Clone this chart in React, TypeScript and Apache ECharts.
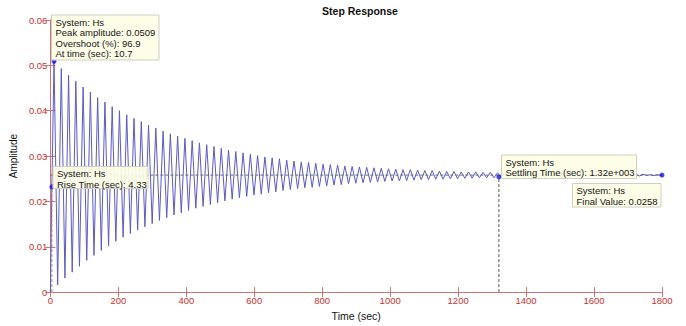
import React, { useEffect, useRef } from "react";
import * as echarts from "echarts";

// Extrema of the step response (time in sec, amplitude)
const timeSec = [
  0, 4.33, 10.7, 21.4, 32.1, 42.8, 53.5, 64.2, 74.9, 85.6, 96.3,
  107, 117.7, 128.4, 139.1, 149.8, 160.5, 171.2, 181.9, 192.6, 203.3,
  214, 224.7, 235.4, 246.1, 256.8, 267.5, 278.2, 288.9, 299.6, 310.3,
  321, 331.7, 342.4, 353.1, 363.8, 374.5, 385.2, 395.9, 406.6, 417.3,
  428, 438.7, 449.4, 460.1, 470.8, 481.5, 492.2, 502.9, 513.6, 524.3,
  535, 545.7, 556.4, 567.1, 577.8, 588.5, 599.2, 609.9, 620.6, 631.3,
  642, 652.7, 663.4, 674.1, 684.8, 695.5, 706.2, 716.9, 727.6, 738.3,
  749, 759.7, 770.4, 781.1, 791.8, 802.5, 813.2, 823.9, 834.6, 845.3,
  856, 866.7, 877.4, 888.1, 898.8, 909.5, 920.2, 930.9, 941.6, 952.3,
  963, 973.7, 984.4, 995.1, 1005.8, 1016.5, 1027.2, 1037.9, 1048.6, 1059.3,
  1070, 1080.7, 1091.4, 1102.1, 1112.8, 1123.5, 1134.2, 1144.9, 1155.6, 1166.3,
  1177, 1187.7, 1198.4, 1209.1, 1219.8, 1230.5, 1241.2, 1251.9, 1262.6, 1273.3,
  1284, 1294.7, 1305.4, 1316.1, 1326.8, 1337.5, 1348.2, 1358.9, 1369.6, 1380.3,
  1391, 1401.7, 1412.4, 1423.1, 1433.8, 1444.5, 1455.2, 1465.9, 1476.6, 1487.3,
  1498, 1508.7, 1519.4, 1530.1, 1540.8, 1551.5, 1562.2, 1572.9, 1583.6, 1594.3,
  1605, 1615.7, 1626.4, 1637.1, 1647.8, 1658.5, 1669.2, 1679.9, 1690.6, 1701.3,
  1712, 1722.7, 1733.4, 1744.1, 1754.8, 1765.5, 1776.2, 1786.9, 1797.6, 1800,
];

const amplitude = [
  0, 0.0232, 0.0509, 0.0016, 0.0493, 0.0031, 0.0478, 0.0044, 0.0465, 0.0057, 0.0452,
  0.0070, 0.0441, 0.0081, 0.0429, 0.0092, 0.0419, 0.0102, 0.0409, 0.0112, 0.0400,
  0.0121, 0.0391, 0.0129, 0.0383, 0.0137, 0.0376, 0.0144, 0.0368, 0.0151, 0.0362,
  0.0158, 0.0355, 0.0164, 0.0349, 0.0170, 0.0344, 0.0175, 0.0339, 0.0180, 0.0334,
  0.0185, 0.0329, 0.0189, 0.0325, 0.0193, 0.0321, 0.0197, 0.0317, 0.0201, 0.0313,
  0.0205, 0.0310, 0.0208, 0.0307, 0.0211, 0.0304, 0.0214, 0.0301, 0.0216, 0.0298,
  0.0219, 0.0296, 0.0221, 0.0294, 0.0224, 0.0291, 0.0226, 0.0289, 0.0228, 0.0287,
  0.0230, 0.0286, 0.0231, 0.0284, 0.0233, 0.0282, 0.0234, 0.0281, 0.0236, 0.0280,
  0.0237, 0.0278, 0.0239, 0.0277, 0.0240, 0.0276, 0.0241, 0.0275, 0.0242, 0.0274,
  0.0243, 0.0273, 0.0244, 0.0272, 0.0245, 0.0271, 0.0245, 0.0270, 0.0246, 0.0270,
  0.0247, 0.0269, 0.0248, 0.0268, 0.0248, 0.0268, 0.0249, 0.0267, 0.0249, 0.0266,
  0.0250, 0.0266, 0.0250, 0.0265, 0.0251, 0.0265, 0.0251, 0.0265, 0.0252, 0.0264,
  0.0252, 0.0264, 0.0252, 0.0263, 0.0253, 0.0263, 0.0253, 0.0263, 0.0253, 0.0262,
  0.0254, 0.0262, 0.0254, 0.0262, 0.0254, 0.0262, 0.0254, 0.0261, 0.0255, 0.0261,
  0.0255, 0.0261, 0.0255, 0.0261, 0.0255, 0.0261, 0.0255, 0.0260, 0.0256, 0.0260,
  0.0256, 0.0260, 0.0256, 0.0260, 0.0256, 0.0260, 0.0256, 0.0260, 0.0256, 0.0260,
  0.0256, 0.0260, 0.0256, 0.0260, 0.0257, 0.0259, 0.0257, 0.0259, 0.0257, 0.0258,
];

// Characteristic points
const peakTime = 10.7;
const peakValue = 0.0509;
const riseTime = 4.33;
const riseValue = 0.0232;
const settlingTime = 1320;
const settlingValue = 0.0254;
const finalTime = 1800;
const finalValue = 0.0258;

// Data-tip texts
const peakTip = ["System: Hs", "Peak amplitude: 0.0509", "Overshoot (%): 96.9", "At time (sec): 10.7"];
const riseTip = ["System: Hs", "Rise Time (sec): 4.33"];
const settlingTip = ["System: Hs", "Settling Time (sec): 1.32e+003"];
const finalTip = ["System: Hs", "Final Value: 0.0258"];

const FONT = '"Liberation Sans", Arial, sans-serif';
const AXIS_COLOR = "#d27474";
const LABEL_COLOR = "#cc2f2f";

function tipBox(x: number, y: number, w: number, h: number, lines: string[]) {
  return {
    type: "group",
    z: 100,
    children: [
      {
        type: "rect",
        shape: { x, y, width: w, height: h },
        style: { fill: "rgba(253,253,230,0.93)", stroke: "#cfcfbd", lineWidth: 1 },
        z: 100,
      },
      {
        type: "text",
        x: x + 4,
        y: y + 1.75,
        z: 101,
        style: {
          text: lines.join("\n"),
          font: `9.5px ${FONT}`,
          lineHeight: 10.5,
          fill: "#151515",
          verticalAlign: "top",
          align: "left",
        },
      },
    ],
  };
}

export default function App() {
  const ref = useRef<HTMLDivElement>(null);

  useEffect(() => {
    document.body.style.margin = "0";
    const chart = echarts.init(ref.current!, null, { renderer: "svg" });

    const response = timeSec.map((t, i) => [t, amplitude[i]]);

    const valueAxisCommon = {
      axisLine: { show: true, lineStyle: { color: AXIS_COLOR, width: 1 } },
      axisTick: { show: true, inside: true, length: 5, lineStyle: { color: AXIS_COLOR } },
      splitLine: { show: false },
    };

    chart.setOption({
      animation: false,
      backgroundColor: "#ffffff",
      title: {
        text: "Step Response",
        left: 355,
        top: 0,
        textAlign: "center",
        textStyle: { fontFamily: FONT, fontSize: 10.5, fontWeight: "bold", color: "#111" },
      },
      grid: { left: 48.5, right: 24, top: 20, bottom: 26, show: false },
      xAxis: [
        {
          type: "value",
          min: 0,
          max: 1800,
          interval: 200,
          position: "bottom",
          ...valueAxisCommon,
          axisLabel: {
            color: LABEL_COLOR,
            fontSize: 9.5,
            fontFamily: FONT,
            margin: 3,
            formatter: (v: number) => String(Math.round(v)),
          },
          name: "Time (sec)",
          nameLocation: "middle",
          nameGap: 15,
          nameTextStyle: { color: "#111", fontSize: 10.5, fontFamily: FONT, verticalAlign: "top" },
        },
        {
          type: "value",
          min: 0,
          max: 1800,
          interval: 200,
          position: "top",
          ...valueAxisCommon,
          axisLabel: { show: false },
        },
      ],
      yAxis: [
        {
          type: "value",
          min: 0,
          max: 0.06,
          interval: 0.01,
          position: "left",
          ...valueAxisCommon,
          axisLabel: {
            color: LABEL_COLOR,
            fontSize: 9.5,
            fontFamily: FONT,
            margin: 3,
            formatter: (v: number) => (v === 0 ? "0" : v.toFixed(2)),
          },
          name: "Amplitude",
          nameLocation: "middle",
          nameGap: 25.5,
          nameTextStyle: { color: "#111", fontSize: 10, fontFamily: FONT },
        },
        {
          type: "value",
          min: 0,
          max: 0.06,
          interval: 0.01,
          position: "right",
          ...valueAxisCommon,
          axisLabel: { show: false },
        },
      ],
      series: [
        {
          type: "line",
          data: response,
          symbol: "none",
          lineStyle: { color: "#5a5ac6", width: 1 },
          z: 2,
        },
        {
          type: "line",
          data: [[0, finalValue], [finalTime, finalValue]],
          symbol: "none",
          lineStyle: { color: "#6a6a6a", width: 1, type: [3, 2] },
          z: 3,
        },
        {
          type: "line",
          data: [[riseTime, 0], [riseTime, riseValue]],
          symbol: "none",
          lineStyle: { color: "#8a8a8a", width: 1, type: [3, 2] },
          z: 3,
        },
        {
          type: "line",
          data: [[settlingTime, 0], [settlingTime, settlingValue]],
          symbol: "none",
          lineStyle: { color: "#555555", width: 1, type: [3, 2] },
          z: 3,
        },
        {
          type: "scatter",
          data: [
            [peakTime, peakValue],
            [riseTime, riseValue],
            [settlingTime, settlingValue],
            [finalTime, finalValue],
          ],
          symbol: "circle",
          symbolSize: 5,
          itemStyle: { color: "#1414e6" },
          z: 5,
        },
      ],
      graphic: [
        tipBox(51.5, 15, 107.5, 45, peakTip),
        tipBox(53, 166.5, 95, 22, riseTip),
        tipBox(501.5, 155, 135, 23.5, settlingTip),
        tipBox(572.5, 183.5, 88.5, 23.5, finalTip),
      ],
    });

    return () => chart.dispose();
  }, []);

  return <div ref={ref} style={{ width: 686, height: 326 }} />;
}
